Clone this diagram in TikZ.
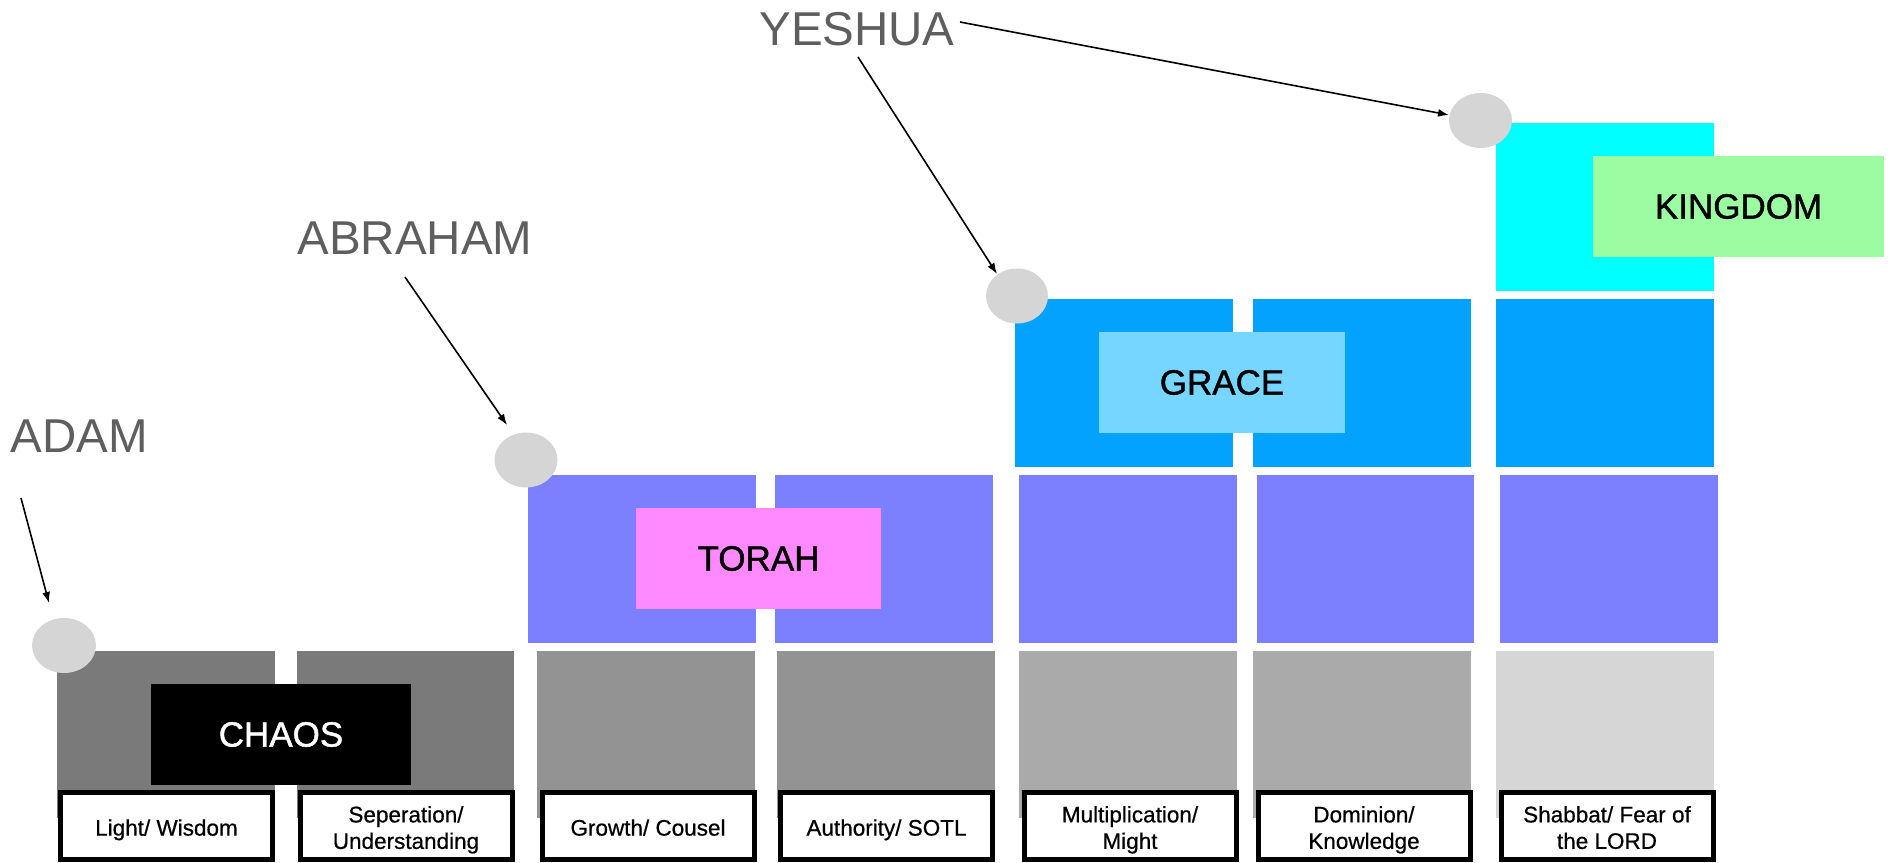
\documentclass[tikz,border=0pt]{standalone}
\usepackage{fontspec}
\setmainfont{Liberation Sans}
\newfontfamily\medfont[FakeBold=1.2]{Liberation Sans}
\newfontfamily\lblfont[FakeBold=0.6]{Liberation Sans}
\usetikzlibrary{arrows.meta,shapes.geometric}
\definecolor{gA}{HTML}{7A7A7A}
\definecolor{gB}{HTML}{939393}
\definecolor{gC}{HTML}{AAAAAA}
\definecolor{gD}{HTML}{D6D6D6}
\definecolor{purp}{HTML}{7D80FE}
\definecolor{blu}{HTML}{04A2FF}
\definecolor{cyn}{HTML}{00FFFF}
\definecolor{lblu}{HTML}{76D6FF}
\definecolor{pnk}{HTML}{FF8AFF}
\definecolor{grn}{HTML}{9CFCA2}
\definecolor{circ}{HTML}{D5D5D5}
\definecolor{txtg}{HTML}{5E5E5E}
\newcommand\lbltext[1]{\raisebox{-9.5pt}[0pt][0pt]{\begin{tabular}{@{}c@{}}#1\end{tabular}}}
\begin{document}
\begin{tikzpicture}[x=1pt,y=-1pt,
  blk/.style={rectangle,inner sep=0pt,outer sep=0pt,draw=none},
  lbl/.style={rectangle,inner sep=0pt,outer sep=0pt,draw=black,fill=white,line width=5pt,
     minimum width=212pt,minimum height=67pt,font=\lblfont\fontsize{22.5}{26.5}\selectfont},
  era/.style={blk,minimum width=245pt,minimum height=101pt,font=\medfont\fontsize{35}{40}\selectfont},
  who/.style={anchor=base,text=txtg,inner sep=0pt,font=\fontsize{47.5}{50}\selectfont},
  dot/.style={ellipse,fill=circ,draw=none,inner sep=0pt,minimum width=63pt,minimum height=55pt},
  arr/.style={-{Latex[length=11pt,width=8pt]},line width=1.6pt,black}]
\useasboundingbox (0,0) rectangle (1898,862);
% bottom gray row
\node[blk,fill=gA,minimum width=218pt,minimum height=167pt] (g1) at (166,734.5) {};
\node[blk,fill=gA,minimum width=217pt,minimum height=167pt] (g2) at (405.5,734.5) {};
\node[blk,fill=gB,minimum width=218pt,minimum height=167pt] (g3) at (646,734.5) {};
\node[blk,fill=gB,minimum width=218pt,minimum height=167pt] (g4) at (886,734.5) {};
\node[blk,fill=gC,minimum width=218pt,minimum height=167pt] (g5) at (1128,734.5) {};
\node[blk,fill=gC,minimum width=218pt,minimum height=167pt] (g6) at (1362,734.5) {};
\node[blk,fill=gD,minimum width=218pt,minimum height=167pt] (g7) at (1605,734.5) {};
% purple row
\node[blk,fill=purp,minimum width=228pt,minimum height=168pt] (p3) at (642,559) {};
\node[blk,fill=purp,minimum width=218pt,minimum height=168pt] (p4) at (884,559) {};
\node[blk,fill=purp,minimum width=218pt,minimum height=168pt] (p5) at (1128,559) {};
\node[blk,fill=purp,minimum width=217pt,minimum height=168pt] (p6) at (1365,559) {};
\node[blk,fill=purp,minimum width=218pt,minimum height=168pt] (p7) at (1609,559) {};
% blue row
\node[blk,fill=blu,minimum width=218pt,minimum height=168pt] (b5) at (1124,383) {};
\node[blk,fill=blu,minimum width=218pt,minimum height=168pt] (b6) at (1362,383) {};
\node[blk,fill=blu,minimum width=218pt,minimum height=168pt] (b7) at (1605,383) {};
% cyan
\node[blk,fill=cyn,minimum width=218pt,minimum height=168pt] (c7) at (1605,207) {};
% era labels
\node[era,fill=black,text=white,minimum width=260pt] (chaos) at (281,734.5) {CHAOS};
\node[era,fill=pnk] (torah) at (758.5,558.5) {TORAH};
\node[era,fill=lblu,minimum width=246pt] (grace) at (1222,382.5) {GRACE};
\node[era,fill=grn,minimum width=291pt] (kingdom) at (1738.5,206.5) {KINGDOM};
% bottom labels
\node[lbl] (l1) at (166.5,826) {\lbltext{Light/ Wisdom}};
\node[lbl] (l2) at (406,826) {\lbltext{Seperation/\\Understanding}};
\node[lbl] (l3) at (648,826) {\lbltext{Growth/ Cousel}};
\node[lbl] (l4) at (886.5,826) {\lbltext{Authority/ SOTL}};
\node[lbl] (l5) at (1130,826) {\lbltext{Multiplication/\\Might}};
\node[lbl] (l6) at (1364,826) {\lbltext{Dominion/\\Knowledge}};
\node[lbl] (l7) at (1607,826) {\lbltext{Shabbat/ Fear of\\the LORD}};
% circles
\node[dot,minimum width=64pt] (dAdam) at (64,645.5) {};
\node[dot] (dAbr) at (526,460) {};
\node[dot,minimum width=62pt] (dYes) at (1017,296) {};
\node[dot] (dKing) at (1480.5,120.5) {};
% names
\node[who] (adam) at (79,452) {ADAM};
\node[who] (abraham) at (415,254) {ABRAHAM};
\node[who] (yeshua) at (857,45) {YESHUA};
% arrow end points
\coordinate (adamS) at (21,498);
\coordinate (adamE) at (49,603);
\coordinate (abrS) at (405,277);
\coordinate (abrE) at (507,425);
\coordinate (yesS1) at (858,57);
\coordinate (yesE1) at (997,274);
\coordinate (yesS2) at (960,22);
\coordinate (yesE2) at (1449,115);
\draw[arr] (adamS) -- (adamE);
\draw[arr] (abrS) -- (abrE);
\draw[arr] (yesS1) -- (yesE1);
\draw[arr] (yesS2) -- (yesE2);
\end{tikzpicture}
\end{document}
